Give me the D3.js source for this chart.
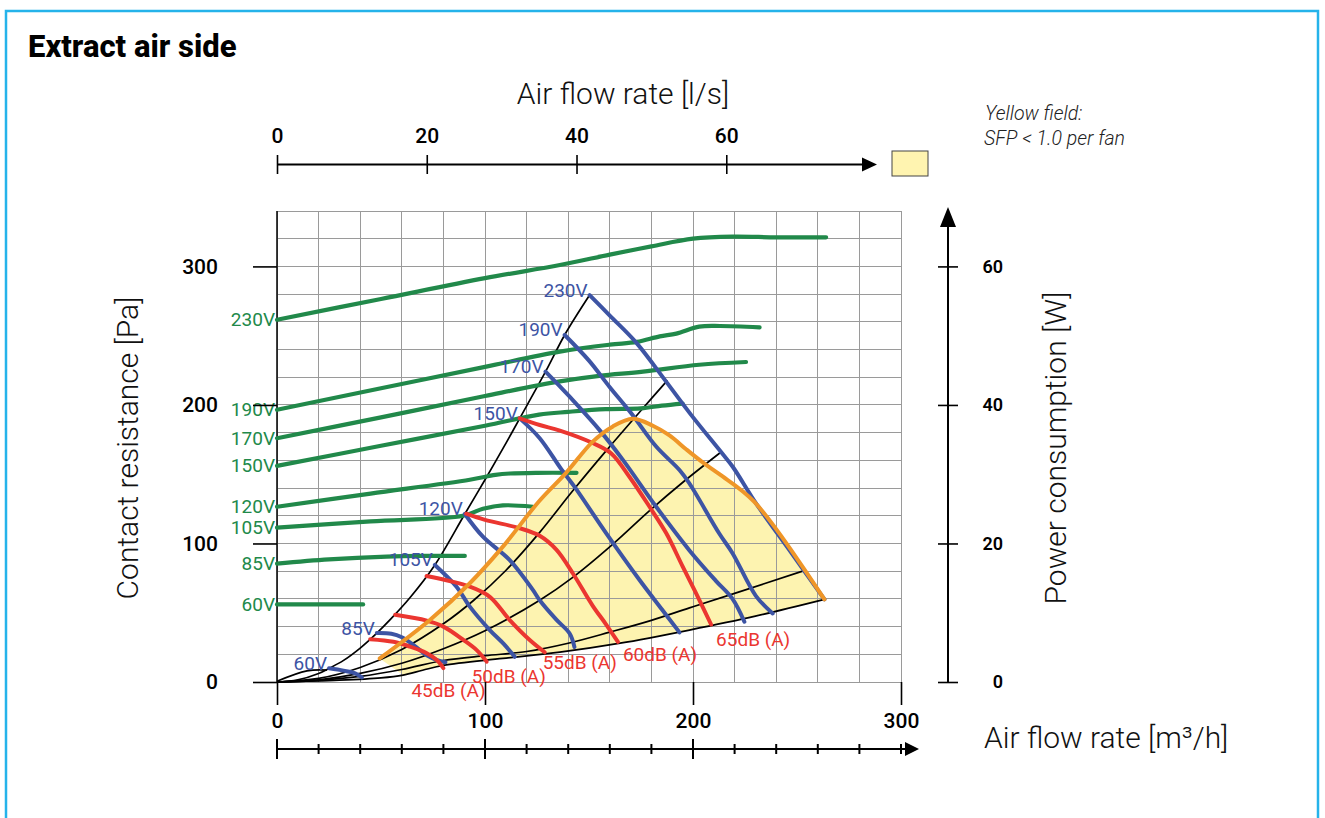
<!DOCTYPE html>
<html>
<head>
<meta charset="utf-8">
<script src="https://cdn.jsdelivr.net/npm/d3@7"></script>
<style>
  body { margin: 0; background: #fff; }
  svg { display: block; font-family: Roboto, "Open Sans", sans-serif; }
</style>
</head>
<body>
<script>
// ---- fan power curves (green, right axis): [air flow m³/h, power W]
const pow230 = [[0,52.3],[50,55.3],[100,58.3],[136,60.2],[160,61.7],[180,62.9],[200,64],[219,64.3],[240,64.2],[264,64.2]];
const pow190 = [[0,39.3],[50,42.4],[100,45.5],[136,47.7],[160,48.7],[173,49.1],[184,49.9],[192,50.3],[203,51.3],[213,51.4],[232,51.2]];
const pow170 = [[0,35.2],[50,38.2],[100,41.3],[136,43.4],[155,44.2],[176,44.8],[203,45.8],[225.5,46.2]];
const pow150 = [[0,31.2],[50,34.1],[100,37],[126,38.6],[140,39],[158,39.4],[175,39.5],[185,39.9],[195,40.2]];
const pow120 = [[0,25.3],[45,27.2],[92.7,29.2],[105,29.9],[112,30.1],[125,30.2],[144,30.2]];
const pow105 = [[0,22.3],[45,23.2],[89.5,24],[99,25],[108.6,25.5],[123,25.3]];
const pow85 = [[0,17.1],[25,17.7],[52.7,18.1],[70,18.2],[90.3,18.2]];
const pow60 = [[0,11.2],[41.4,11.2]];

// ---- fan pressure curves (blue, left axis): [air flow m³/h, pressure Pa]
const fan60 = [[25,9.9],[32,8.2],[37.6,6.3],[40.8,3.4]];
const fan85 = [[48,35.3],[55,34.8],[60,32.3],[66,26.3],[72,19.3],[77,15.8],[81,14.3]];
const fan105 = [[75.9,84.5],[86.3,68.8],[92.7,54.4],[102.3,37.5],[109,27.5],[114.3,18.2]];
const fan120 = [[90.3,121.3],[99,104.9],[111.9,88],[123,66.5],[126.3,59],[134.3,45],[140.7,35],[143,25.3]];
const fan150 = [[116.7,190.3],[126.3,176],[136.5,154],[143,141],[158.3,107.3],[174.3,73.6],[185,52.5],[193.5,35.8]];
const fan170 = [[129.1,224],[135.9,213.5],[142.2,203.5],[155,182],[166.2,160.5],[182.3,126.5],[198.3,95],[211,73],[219,60],[224.7,43.5]];
const fan190 = [[138.3,250.5],[150,232],[159.9,213],[170.3,194],[182.3,170],[193.5,153],[198.3,143.3],[212.7,107],[219,93],[230.3,62],[238.3,49.5]];
const fan230 = [[150.3,279.3],[160,264.5],[172.7,245],[187,217],[199,193],[213.5,166],[219.1,155.4],[230.3,129],[246.7,94.5],[263.2,59.6]];

// ---- system curves (black)
const sys0 = [[0,0.5],[14.4,8],[24,8.6]];
const sys1 = [[0,0],[10,1.5],[20,6.1],[25,9.8],[32,15.6],[40,24.5],[48,35.3],[54.4,45],[64,61],[75.9,84.5],[90.3,121.3],[100,146],[110.3,173],[116.7,190.3],[129.1,224],[138.3,250.5],[150.3,279.3]];
const sys2 = [[0,0],[20,2.6],[40,10.5],[60,23.5],[80,42],[94.6,59],[110,80.5],[126.3,108],[142.2,138],[158.3,167],[175,196],[187.7,217.7]];
const sys3 = [[0,0],[20,1.6],[40,6.2],[60,13.5],[80,24],[100,37],[126.3,59],[142.2,75.5],[161.5,99.5],[179,123.5],[195,144],[213.5,166]];
const sys4 = [[0,0],[20,1.2],[40,4],[60,9],[80,15.5],[100,19],[120,22],[140,28],[160,36],[180,44.5],[198.3,53.5],[220,64],[252.7,80]];
const sys5 = [[0,0],[30,1.3],[50,3],[60.6,5],[70,8.5],[80,12],[108.6,17],[136,21.5],[165,28],[198.3,37.5],[230,47.5],[263.2,59.6]];

// ---- sound level curves (red)
const db45 = [[44.8,30.9],[56,29],[64,25.5],[72,20.8],[76.8,15.9],[80,10]];
const db50 = [[56.8,48.5],[72,44.3],[80,40],[89.6,30.4],[96,23],[100.8,14.7]];
const db55 = [[71.9,76.5],[92.7,68.8],[102.3,61.5],[111.9,44.7],[121.5,30.3],[128.7,21.5]];
const db60 = [[91,121.5],[100,117],[116.7,111],[126.3,105.5],[134.3,95.5],[142.2,78.5],[151.8,55],[158,42],[163.9,29]];
const db65 = [[116.7,190.3],[126.3,185.5],[136,181.5],[151.8,172.5],[160.7,165],[169.5,148],[179.1,126.5],[187.1,107.5],[195,83.5],[201.5,64],[208.7,41.5]];

// ---- SFP < 1.0 boundary (orange)
const sfpEdge = [[49.4,17],[73.5,44.8],[92.7,71.3],[108.6,97.7],[126,130.5],[139,151],[151.8,173.5],[161.5,184.5],[171,190],[180.7,185],[188.7,178],[196.7,168],[204.7,158.5],[212.7,150],[229.5,130],[263.2,59.6]];

// ---- labels and ticks
const voltLabels = ["60V","85V","105V","120V","150V","170V","190V","230V"];
const dbLabels = ["45dB (A)","50dB (A)","55dB (A)","60dB (A)","65dB (A)"];
const paTicks = [0,100,200,300];
const wTicks = [0,20,40,60];
const lsTicks = [0,20,40,60];
const m3hTicks = [0,100,200,300];

const powCurves = [pow60, pow85, pow105, pow120, pow150, pow170, pow190, pow230];
const fanCurves = [fan60, fan85, fan105, fan120, fan150, fan170, fan190, fan230];
const dbCurves = [db45, db50, db55, db60, db65];
const sysCurves = [sys0, sys1, sys2, sys3, sys4, sys5];

const w = 1325, h = 818;
const GREEN = "#21894a", BLUE = "#3d54a4", RED = "#eb3630", ORANGE = "#ef9628";

/* scales */
const xScale = d3.scaleLinear().domain([0, 300]).range([277, 901]);
const yScale = d3.scaleLinear().domain([0, 340]).range([682, 211]);
const yPower = d3.scaleLinear().domain([0, 68]).range([682, 211]);
const xLs = d3.scaleLinear().domain([0, 300 / 3.6]).range([277, 901]);

const svg = d3.select("body").append("svg").attr("width", w).attr("height", h);

// outer frame
svg.append("rect").attr("x", 6).attr("y", 11).attr("width", 1312).attr("height", 840)
   .attr("fill", "none").attr("stroke", "#25b3ea").attr("stroke-width", 2.5);

svg.append("text").attr("x", 28).attr("y", 57)
   .attr("font-size", 31).attr("font-weight", 800).text("Extract air side");

const line = d3.line().x(d => xScale(d[0])).y(d => yScale(d[1])).curve(d3.curveCatmullRom.alpha(0.5));
const linePow = d3.line().x(d => xScale(d[0])).y(d => yPower(d[1])).curve(d3.curveCatmullRom.alpha(0.5));

/* yellow field */
const lower = sys5.filter(d => d[0] >= 60).reverse();
svg.append("path")
   .attr("d", line(sfpEdge) + "L" + line(lower).slice(1) + "Z")
   .attr("fill", "#fdf3b0");

/* grid */
const grid = svg.append("g").attr("stroke", "#9a9a9a").attr("stroke-width", 1).attr("shape-rendering", "crispEdges");
grid.selectAll(".gv").data(d3.range(0, 301, 20)).join("line")
    .attr("x1", d => xScale(d)).attr("x2", d => xScale(d))
    .attr("y1", yScale(340)).attr("y2", yScale(0));
grid.selectAll(".gh").data(d3.range(0, 341, 20)).join("line")
    .attr("x1", xScale(0)).attr("x2", xScale(300))
    .attr("y1", d => yScale(d)).attr("y2", d => yScale(d));

// left plot border
svg.append("line").attr("x1", xScale(0)).attr("x2", xScale(0))
   .attr("y1", yScale(340)).attr("y2", yScale(0)).attr("stroke", "#000").attr("stroke-width", 1.5);

/* system curves */
svg.append("g").selectAll("path").data(sysCurves).join("path")
   .attr("d", line).attr("fill", "none").attr("stroke", "#000").attr("stroke-width", 1.7);

/* power curves */
svg.append("g").selectAll("path").data(powCurves).join("path")
   .attr("d", linePow).attr("fill", "none").attr("stroke", GREEN)
   .attr("stroke-width", 4.2).attr("stroke-linecap", "round");

svg.append("g").selectAll("text").data(powCurves).join("text")
   .attr("x", xScale(0) - 2).attr("y", d => yPower(d[0][1]))
   .attr("text-anchor", "end").attr("dominant-baseline", "central")
   .attr("font-size", 19).attr("fill", GREEN)
   .text((d, i) => voltLabels[i]);

/* fan curves */
svg.append("g").selectAll("path").data(fanCurves).join("path")
   .attr("d", line).attr("fill", "none").attr("stroke", BLUE)
   .attr("stroke-width", 4).attr("stroke-linecap", "round");

svg.append("g").selectAll("text").data(fanCurves).join("text")
   .attr("x", d => xScale(d[0][0]) - 2).attr("y", d => yScale(d[0][1]) - 5)
   .attr("text-anchor", "end").attr("dominant-baseline", "central")
   .attr("font-size", 19).attr("fill", BLUE)
   .text((d, i) => voltLabels[i]);

/* sound curves */
svg.append("g").selectAll("path").data(dbCurves).join("path")
   .attr("d", line).attr("fill", "none").attr("stroke", RED)
   .attr("stroke-width", 4).attr("stroke-linecap", "round");

const dbLabelShift = [[-32, 22], [-15, 15], [-2, 10], [5, 13], [5, 15]];
svg.append("g").selectAll("text").data(dbCurves).join("text")
   .attr("x", (d, i) => xScale(d[d.length - 1][0]) + dbLabelShift[i][0])
   .attr("y", (d, i) => yScale(d[d.length - 1][1]) + dbLabelShift[i][1])
   .attr("dominant-baseline", "central")
   .attr("font-size", 19).attr("fill", RED)
   .text((d, i) => dbLabels[i]);

/* SFP boundary */
svg.append("path").attr("d", line(sfpEdge)).attr("fill", "none")
   .attr("stroke", ORANGE).attr("stroke-width", 4).attr("stroke-linejoin", "round").attr("stroke-linecap", "round");

/* axes */
const styleAxis = (g, size, weight) => {
  g.select(".domain").remove();
  g.attr("font-family", null).attr("font-size", size).attr("font-weight", weight);
  g.selectAll("line").attr("stroke", "#000").attr("stroke-width", 1.6);
  g.selectAll("text").attr("fill", "#000");
};

svg.append("g").attr("transform", "translate(" + xScale(0) + ",0)")
   .call(d3.axisLeft(yScale).tickValues(paTicks).tickSize(24).tickPadding(35))
   .call(g => styleAxis(g, 21, 500));

svg.append("g").attr("transform", "translate(0," + yScale(0) + ")")
   .call(d3.axisBottom(xScale).tickValues(m3hTicks).tickSize(23).tickPadding(8))
   .call(g => styleAxis(g, 21, 500));

svg.append("g").attr("transform", "translate(0,174)")
   .call(d3.axisTop(xLs).tickValues(lsTicks).tickSize(19).tickPadding(12))
   .call(g => styleAxis(g, 21, 500));

svg.append("g").attr("transform", "translate(938,0)")
   .call(d3.axisRight(yPower).tickValues(wTicks).tickSize(20))
   .call(g => styleAxis(g, 18, 600))
   .call(g => g.selectAll("text").attr("x", 65).attr("text-anchor", "end"));

// arrow lines
const arrows = svg.append("g").attr("stroke", "#000").attr("stroke-width", 2);
arrows.append("line").attr("x1", xScale(0)).attr("x2", 866).attr("y1", 164.5).attr("y2", 164.5);
svg.append("path").attr("d", "M862,157.5L877,164.5L862,171.5Z").attr("fill", "#000");

const yArrow = 749;
arrows.append("line").attr("x1", xScale(0)).attr("x2", 908).attr("y1", yArrow).attr("y2", yArrow);
svg.append("path").attr("d", "M905,742L919," + yArrow + "L905,756Z").attr("fill", "#000");
arrows.selectAll(".mt").data(d3.range(0, 301, 20)).join("line")
   .attr("x1", d => xScale(d)).attr("x2", d => xScale(d))
   .attr("y1", d => yArrow - (d % 100 === 0 && d < 300 ? 10 : 5))
   .attr("y2", d => yArrow + (d % 100 === 0 && d < 300 ? 10 : 5));

arrows.append("line").attr("x1", 948).attr("x2", 948).attr("y1", yPower(0)).attr("y2", 222);
svg.append("path").attr("d", "M940,227L948,207L956,227Z").attr("fill", "#000");

/* axis titles */
const title = (x, y, rot, txt, anchor) => svg.append("text")
   .attr("transform", "translate(" + x + "," + y + ")" + (rot ? " rotate(-90)" : ""))
   .attr("text-anchor", anchor || "middle").attr("dominant-baseline", "central")
   .attr("font-size", 30).attr("font-weight", 300).attr("fill", "#111").text(txt);

title(623, 93, false, "Air flow rate [l/s]");
title(127, 448, true, "Contact resistance [Pa]");
title(1055, 448, true, "Power consumption [W]");
title(984, 737, false, "Air flow rate [m³/h]", "start");

/* legend */
svg.append("rect").attr("x", 892).attr("y", 151).attr("width", 36).attr("height", 25)
   .attr("fill", "#fff4b0").attr("stroke", "#444").attr("stroke-width", 1);
svg.append("text").attr("x", 985).attr("y", 113).attr("dominant-baseline", "central")
   .attr("font-size", 19.5).attr("font-style", "italic").attr("font-weight", 300).attr("fill", "#222")
   .text("Yellow field:");
svg.append("text").attr("x", 984).attr("y", 138).attr("dominant-baseline", "central")
   .attr("font-size", 19.5).attr("font-style", "italic").attr("font-weight", 300).attr("fill", "#222")
   .text("SFP < 1.0 per fan");
</script>
</body>
</html>
